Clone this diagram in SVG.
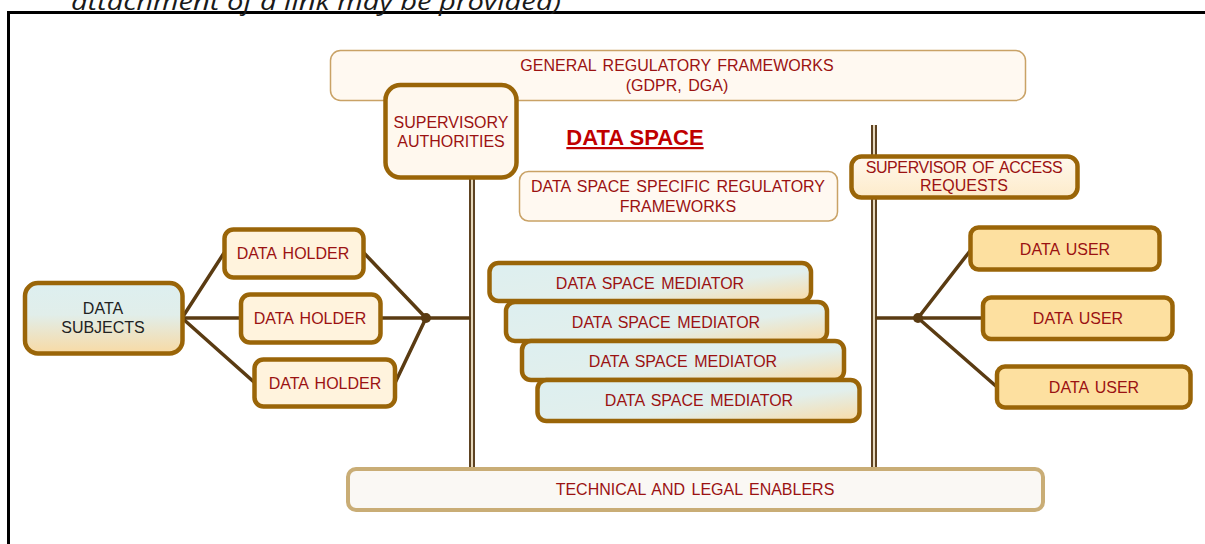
<svg xmlns="http://www.w3.org/2000/svg" width="1205" height="544" viewBox="0 0 1205 544">
<defs>
<linearGradient id="gMed" x1="0" y1="0" x2="1" y2="1">
<stop offset="0" stop-color="#ddeff0"/>
<stop offset="0.6" stop-color="#e2efec"/>
<stop offset="1" stop-color="#f9dba6"/>
</linearGradient>
<linearGradient id="gSub" x1="0" y1="0" x2="0" y2="1">
<stop offset="0" stop-color="#ddeff0"/>
<stop offset="0.45" stop-color="#e1eeea"/>
<stop offset="1" stop-color="#f8daa4"/>
</linearGradient>
<linearGradient id="gSar" x1="0" y1="0" x2="0" y2="1">
<stop offset="0" stop-color="#fff8ec"/>
<stop offset="1" stop-color="#fdebca"/>
</linearGradient>
<style>
.t{font-family:"Liberation Sans",Arial,sans-serif;font-size:16px;fill:#9b1212;text-anchor:middle;word-spacing:2px}
.thin{fill:#fff9f1;stroke:#c9a266;stroke-width:1.5}
.thick{stroke:#9a6508;stroke-width:4.5}
.ln{stroke:#5a3b12;stroke-width:3.5;fill:none;stroke-linecap:round}
.barO{stroke:#5e4322;stroke-width:6}
.barI{stroke:#e6d8bc;stroke-width:2}
</style>
</defs>
<rect width="1205" height="544" fill="#ffffff"/>
<rect x="8.5" y="12.5" width="1300" height="600" fill="none" stroke="#000" stroke-width="3"/>
<text x="71" y="10" font-family="'Open Sans','DejaVu Sans',sans-serif" font-style="italic" font-size="24" fill="#1a1a1a" textLength="490" lengthAdjust="spacingAndGlyphs">attachment of a link may be provided)</text>

<g id="connectors">
<line class="barO" x1="472" y1="178" x2="472" y2="469"/>
<line class="barI" x1="472" y1="178" x2="472" y2="469"/>
<line class="barO" x1="874" y1="125" x2="874" y2="469"/>
<line class="barI" x1="874" y1="125" x2="874" y2="469"/>
<line class="ln" x1="182" y1="318" x2="224" y2="253"/>
<line class="ln" x1="182" y1="318" x2="241" y2="318"/>
<line class="ln" x1="182" y1="318" x2="255" y2="383"/>
<line class="ln" x1="364" y1="253" x2="426" y2="318"/>
<line class="ln" x1="381" y1="318" x2="426" y2="318"/>
<line class="ln" x1="395" y1="383" x2="426" y2="318"/>
<line class="ln" x1="426" y1="318" x2="469" y2="318"/>
<circle cx="426" cy="318" r="5" fill="#5a3b12"/>
<line class="ln" x1="877" y1="318" x2="918" y2="318"/>
<line class="ln" x1="918" y1="318" x2="970" y2="251"/>
<line class="ln" x1="918" y1="318" x2="983" y2="318"/>
<line class="ln" x1="918" y1="318" x2="997" y2="387"/>
<circle cx="918" cy="318" r="5" fill="#5a3b12"/>
</g>

<g id="general">
<rect class="thin" x="330.5" y="50.5" width="695" height="50" rx="10"/>
<text class="t" x="677" y="71" font-size="15">GENERAL REGULATORY FRAMEWORKS</text>
<text class="t" x="677" y="91" font-size="15">(GDPR, DGA)</text>
</g>

<g id="supervisory">
<rect class="thick" fill="#fff8ee" x="385.5" y="85" width="131" height="92.5" rx="15" stroke-width="5"/>
<text class="t" x="451" y="128">SUPERVISORY</text>
<text class="t" x="451" y="147">AUTHORITIES</text>
</g>

<g id="title">
<text x="635" y="145" font-family="'Liberation Sans',Arial,sans-serif" font-size="22" font-weight="bold" fill="#c00000" text-anchor="middle" text-decoration="underline">DATA SPACE</text>
</g>

<g id="specific">
<rect class="thin" x="519.5" y="171.5" width="318" height="49.5" rx="9"/>
<text class="t" x="678" y="192" font-size="15">DATA SPACE SPECIFIC REGULATORY</text>
<text class="t" x="678" y="212" font-size="15">FRAMEWORKS</text>
</g>

<g id="supervisor-access">
<rect class="thick" fill="url(#gSar)" x="851.5" y="156.5" width="226" height="41" rx="10"/>
<text class="t" x="964" y="173" font-size="14.7" letter-spacing="-0.4" word-spacing="-1">SUPERVISOR OF ACCESS</text>
<text class="t" x="964" y="191" font-size="14.7">REQUESTS</text>
</g>

<g id="data-subjects">
<rect class="thick" fill="url(#gSub)" x="25" y="283" width="157.5" height="70.5" rx="13"/>
<text class="t" x="103" y="314" style="fill:#222">DATA</text>
<text class="t" x="103" y="333" style="fill:#222">SUBJECTS</text>
</g>

<g id="holder1">
<rect class="thick" fill="#fff3dd" x="224.5" y="229.5" width="139" height="48" rx="9"/>
<text class="t" x="293" y="259">DATA HOLDER</text>
</g>
<g id="holder2">
<rect class="thick" fill="#fff3dd" x="241" y="294.5" width="139.5" height="48" rx="9"/>
<text class="t" x="310" y="324">DATA HOLDER</text>
</g>
<g id="holder3">
<rect class="thick" fill="#fff3dd" x="254.5" y="359.5" width="140.5" height="47" rx="9"/>
<text class="t" x="325" y="389">DATA HOLDER</text>
</g>

<g id="mediator1">
<rect class="thick" fill="url(#gMed)" x="489.5" y="263" width="321.5" height="38" rx="9"/>
<text class="t" x="650" y="289">DATA SPACE MEDIATOR</text>
</g>
<g id="mediator2">
<rect class="thick" fill="url(#gMed)" x="506" y="302" width="321" height="39" rx="9"/>
<text class="t" x="666" y="328">DATA SPACE MEDIATOR</text>
</g>
<g id="mediator3">
<rect class="thick" fill="url(#gMed)" x="522" y="341" width="322" height="39" rx="9"/>
<text class="t" x="683" y="367">DATA SPACE MEDIATOR</text>
</g>
<g id="mediator4">
<rect class="thick" fill="url(#gMed)" x="537.5" y="380" width="322" height="41" rx="9"/>
<text class="t" x="699" y="406">DATA SPACE MEDIATOR</text>
</g>

<g id="user1">
<rect class="thick" fill="#fde0a0" x="970.5" y="227.5" width="189" height="42" rx="8"/>
<text class="t" x="1065" y="255">DATA USER</text>
</g>
<g id="user2">
<rect class="thick" fill="#fde0a0" x="983" y="297.5" width="189.5" height="41.5" rx="8"/>
<text class="t" x="1078" y="324">DATA USER</text>
</g>
<g id="user3">
<rect class="thick" fill="#fde0a0" x="997" y="366.5" width="193.5" height="41" rx="8"/>
<text class="t" x="1094" y="393">DATA USER</text>
</g>

<g id="enablers">
<rect fill="#faf8f4" stroke="#c9ad76" stroke-width="4" x="348" y="469" width="695" height="41" rx="8"/>
<text class="t" x="695" y="495">TECHNICAL AND LEGAL ENABLERS</text>
</g>
</svg>
